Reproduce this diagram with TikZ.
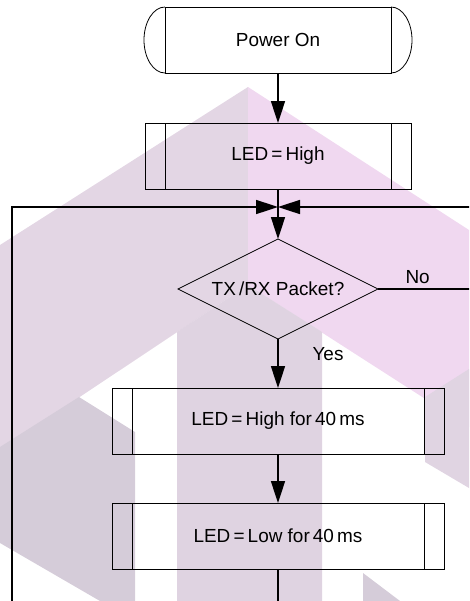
\documentclass[tikz,border=0pt]{standalone}
\usepackage{fontspec}
\setmainfont{Liberation Sans}
\usetikzlibrary{shapes.geometric,positioning,arrows.meta}

\definecolor{wmpink}{RGB}{240,216,240}
\definecolor{wmmauve}{RGB}{227,214,228}
\definecolor{wmband}{RGB}{223,211,225}
\definecolor{wmgray}{RGB}{213,204,217}
\definecolor{wmleg}{RGB}{224,212,226}
\newcommand\flowfont{\fontsize{14.2}{17}\selectfont}

\begin{document}
\begin{tikzpicture}[x=0.75pt, y=-0.75pt,
  term/.style={rectangle, draw, line width=0.6pt, minimum width=169.5pt, minimum height=49.5pt, inner sep=0pt, outer sep=0pt, font=\flowfont},
  proc/.style={rectangle, draw, line width=0.6pt, minimum height=49.5pt, inner sep=0pt, outer sep=0pt, font=\flowfont,
    path picture={\draw[line width=0.6pt] ([xshift=15pt]path picture bounding box.north west) -- ([xshift=15pt]path picture bounding box.south west)
      ([xshift=-15pt]path picture bounding box.north east) -- ([xshift=-15pt]path picture bounding box.south east);}},
  decision/.style={diamond, draw, aspect=2, line width=0.6pt, minimum width=150pt, minimum height=75pt, inner sep=0pt, outer sep=0pt, font=\flowfont},
  flow/.style={line width=1.2pt, -{Triangle[length=16.5pt, width=10.5pt]}},
  link/.style={line width=1.2pt},
  lbl/.style={font=\flowfont},
]

\clip (0,0) rectangle (469,601);

% === Watermark ===
\fill[wmmauve] (248,87) -- (0,245) -- (0,450) -- (248,285) -- cycle;
\fill[wmpink] (248,87) -- (469,230) -- (469,427) -- (248,285) -- cycle;
\fill[wmband] (177,332) -- (248,285) -- (322,332) -- (322,601) -- (177,601) -- cycle;
\fill[wmgray] (0,447) -- (79,397) -- (135,432) -- (135,601) -- (100,601) -- (0,543) -- cycle;
\fill[wmleg] (425,397) -- (469,369) -- (469,488) -- (425,462) -- cycle;
\fill[wmgray] (363,573) -- (400,601) -- (363,601) -- cycle;

% === Flowchart ===
\node[term] (power) at (278,40) {Power On};
\draw[line width=0.6pt] (power.north west) arc[start angle=90, end angle=270, x radius=15.75pt, y radius=24.75pt];
\draw[line width=0.6pt] (power.north east) arc[start angle=90, end angle=-90, x radius=15.75pt, y radius=24.75pt];

\node[proc, minimum width=199.5pt, below=37.5pt of power] (led) {LED\,=\,High};
\node[decision, below=37.5pt of led] (txrx) {TX\,/RX Packet?};
\node[proc, minimum width=249pt, below=36.75pt of txrx] (ledhi) {LED\,=\,High for\,40\,ms};
\node[proc, minimum width=249pt, below=36.75pt of ledhi] (ledlo) {LED\,=\,Low for\,40\,ms};

\coordinate (merge) at ([yshift=-13.5pt]led.south);
\coordinate (loopL) at (12,640);
\coordinate (nextstep) at (278,640);

\draw[flow] (power) -- (led);
\draw[link] (led) -- (merge);
\draw[flow] (merge) -- (txrx);
\draw[flow] (loopL) |- (merge);
\draw[flow] (txrx.east) -- node[lbl, pos=0.36, above]{No} ++(110,0) |- (merge);
\draw[flow] (txrx) -- node[lbl, pos=0.3, right=22pt]{Yes} (ledhi);
\draw[flow] (ledhi) -- (ledlo);
\draw[link] (ledlo) -- (nextstep);

\end{tikzpicture}
\end{document}
